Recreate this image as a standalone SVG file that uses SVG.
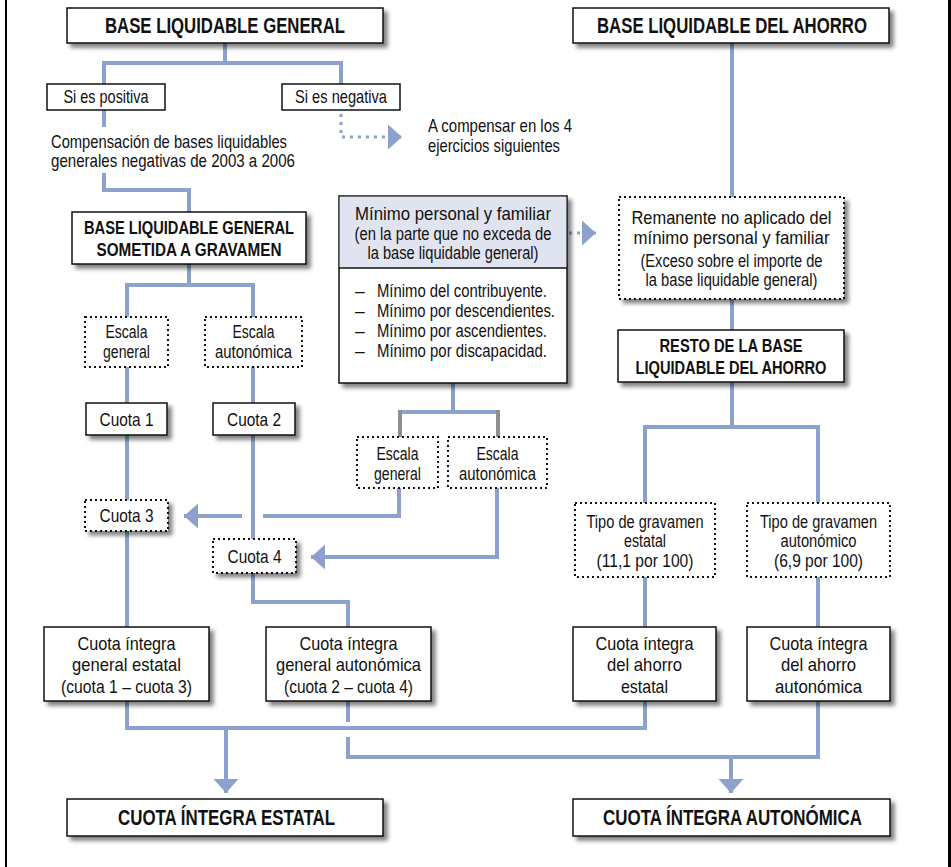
<svg xmlns="http://www.w3.org/2000/svg" width="951" height="867" viewBox="0 0 951 867">
<style>
text{font-family:"Liberation Sans Narrow","Liberation Sans",Arial,sans-serif;fill:#111;}
.t{font-size:17.5px;}
.n{font-size:18.5px;}
.m{font-size:19px;}
.b{font-weight:bold;font-size:18px;}
.B{font-weight:bold;font-size:22px;}
.c{text-anchor:middle;}
.box{fill:#fff;stroke:#111;stroke-width:1.5;}
.dot{fill:#fff;stroke:#111;stroke-width:2;stroke-dasharray:2 3;}
.sh{filter:url(#sh);}
.ln{fill:none;stroke:#8ca1cc;stroke-width:4;}
.gr{fill:none;stroke:#8f8f8f;stroke-width:4;}
.dl{fill:none;stroke:#8ca1cc;stroke-width:3;stroke-dasharray:3 5;}
.ah{fill:#8ca1cc;}
</style>
<defs>
<filter id="sh" x="-10%" y="-10%" width="130%" height="140%">
<feGaussianBlur in="SourceAlpha" stdDeviation="2"/>
<feOffset dx="4" dy="4" result="o"/>
<feComponentTransfer><feFuncA type="linear" slope="0.5"/></feComponentTransfer>
<feMerge><feMergeNode/><feMergeNode in="SourceGraphic"/></feMerge>
</filter>
<marker id="arr" markerUnits="userSpaceOnUse" markerWidth="16" markerHeight="26" refX="14" refY="12.5" orient="auto" viewBox="0 0 16 26">
<path class="ah" d="M0,0 L14,12.5 L0,25 Z"/>
</marker>
</defs>
<rect x="0" y="0" width="951" height="867" fill="#fff"/>
<line x1="6" y1="0" x2="6" y2="867" stroke="#000" stroke-width="2"/>
<line x1="949.5" y1="0" x2="949.5" y2="867" stroke="#000" stroke-width="3"/>

<g id="connectors">
<path class="ln" d="M225,43 V63 M104,63 H341 M104,61 V84 M341,61 V84"/>
<path class="ln" d="M104,110 V127 M104,173 V190 H189 V212"/>
<path class="dl" d="M341,114 V137 H402" marker-end="url(#arr)"/>
<path class="ln" d="M189,264 V285 M127,285 H253 M127,283 V317 M253,283 V317 M127,367 V403 M253,367 V403"/>
<path class="ln" d="M127,435 V500 M127,531 V627 M253,435 V539"/>
<path class="ln" d="M453,383 V412 M400,412 H498"/>
<path class="gr" d="M400,410 V437 M498,410 V437"/>
<path class="ln" d="M399,488 V516 H263"/>
<path class="ln" d="M242,516 H184" marker-end="url(#arr)"/>
<path class="ln" d="M497,488 V557 H311" marker-end="url(#arr)"/>
<path class="ln" d="M253,573 V602 H348 V627"/>
<path class="dl" d="M569,233 H596" marker-end="url(#arr)"/>
<path class="ln" d="M732,43 V197 M732,299 V330 M732,382 V427 M645,427 H818 M645,425 V503 M818,425 V503 M645,577 V627 M818,577 V627"/>
<path class="ln" d="M127,701 V728 H645 V701"/>
<path class="ln" d="M226,728 V793" marker-end="url(#arr)"/>
<path class="ln" d="M348,701 V722 M348,737 V757 H818 V701"/>
<path class="ln" d="M731,757 V793" marker-end="url(#arr)"/>
</g>

<g id="blg">
<rect class="box sh" x="67" y="8" width="316" height="35"/>
<text class="B c" x="225" y="33" textLength="240" lengthAdjust="spacingAndGlyphs">BASE LIQUIDABLE GENERAL</text>
</g>
<g id="blda">
<rect class="box sh" x="573" y="8" width="316" height="35"/>
<text class="B c" x="732" y="33" textLength="270" lengthAdjust="spacingAndGlyphs">BASE LIQUIDABLE DEL AHORRO</text>
</g>
<g id="positiva">
<rect class="box" x="47" y="84" width="118" height="26"/>
<text class="n c" x="106" y="103" textLength="85" lengthAdjust="spacingAndGlyphs">Si es positiva</text>
</g>
<g id="negativa">
<rect class="box" x="282" y="84" width="118" height="26"/>
<text class="n c" x="341" y="103" textLength="92" lengthAdjust="spacingAndGlyphs">Si es negativa</text>
</g>
<g id="compensacion">
<text class="m" x="51" y="148" textLength="236" lengthAdjust="spacingAndGlyphs">Compensación de bases liquidables</text>
<text class="m" x="51" y="167" textLength="244" lengthAdjust="spacingAndGlyphs">generales negativas de 2003 a 2006</text>
</g>
<g id="acompensar">
<text class="n" x="428" y="132" textLength="144" lengthAdjust="spacingAndGlyphs">A compensar en los 4</text>
<text class="n" x="428" y="152" textLength="132" lengthAdjust="spacingAndGlyphs">ejercicios siguientes</text>
</g>
<g id="sometida">
<rect class="box sh" x="72" y="212" width="234" height="52"/>
<text class="b c" x="189" y="234" textLength="210" lengthAdjust="spacingAndGlyphs">BASE LIQUIDABLE GENERAL</text>
<text class="b c" x="189" y="256" textLength="185" lengthAdjust="spacingAndGlyphs">SOMETIDA A GRAVAMEN</text>
</g>
<g id="escala-general-1">
<rect class="dot" x="85" y="317" width="83" height="50"/>
<text class="t c" x="126.5" y="338" textLength="42" lengthAdjust="spacingAndGlyphs">Escala</text>
<text class="t c" x="126.5" y="358" textLength="47" lengthAdjust="spacingAndGlyphs">general</text>
</g>
<g id="escala-auto-1">
<rect class="dot" x="205" y="317" width="97" height="50"/>
<text class="t c" x="253.5" y="338" textLength="42" lengthAdjust="spacingAndGlyphs">Escala</text>
<text class="t c" x="253.5" y="358" textLength="77" lengthAdjust="spacingAndGlyphs">autonómica</text>
</g>
<g id="cuota1">
<rect class="box sh" x="86" y="403" width="81" height="32"/>
<text class="m c" x="126.5" y="426" textLength="54" lengthAdjust="spacingAndGlyphs">Cuota 1</text>
</g>
<g id="cuota2">
<rect class="box sh" x="213" y="403" width="82" height="32"/>
<text class="m c" x="254" y="426" textLength="54" lengthAdjust="spacingAndGlyphs">Cuota 2</text>
</g>
<g id="minimo">
<rect class="box sh" x="339" y="196" width="228" height="187"/>
<rect x="339.75" y="196.75" width="226.5" height="71" fill="#dfe4f0"/>
<line x1="339" y1="268" x2="567" y2="268" stroke="#111" stroke-width="1.5"/>
<text class="m c" x="453" y="220" textLength="196" lengthAdjust="spacingAndGlyphs">Mínimo personal y familiar</text>
<text class="t c" x="453" y="240" textLength="197" lengthAdjust="spacingAndGlyphs">(en la parte que no exceda de</text>
<text class="t c" x="453" y="259" textLength="171" lengthAdjust="spacingAndGlyphs">la base liquidable general)</text>
<text class="t" x="355" y="297">–</text>
<text class="t" x="377" y="297" textLength="170" lengthAdjust="spacingAndGlyphs">Mínimo del contribuyente.</text>
<text class="t" x="355" y="317">–</text>
<text class="t" x="377" y="317" textLength="178" lengthAdjust="spacingAndGlyphs">Mínimo por descendientes.</text>
<text class="t" x="355" y="337">–</text>
<text class="t" x="377" y="337" textLength="170" lengthAdjust="spacingAndGlyphs">Mínimo por ascendientes.</text>
<text class="t" x="355" y="357">–</text>
<text class="t" x="377" y="357" textLength="170" lengthAdjust="spacingAndGlyphs">Mínimo por discapacidad.</text>
</g>
<g id="escala-general-2">
<rect class="dot" x="357" y="437" width="81" height="51"/>
<text class="t c" x="397.5" y="460" textLength="42" lengthAdjust="spacingAndGlyphs">Escala</text>
<text class="t c" x="397.5" y="480" textLength="47" lengthAdjust="spacingAndGlyphs">general</text>
</g>
<g id="escala-auto-2">
<rect class="dot" x="448" y="437" width="99" height="51"/>
<text class="t c" x="497.5" y="460" textLength="42" lengthAdjust="spacingAndGlyphs">Escala</text>
<text class="t c" x="497.5" y="480" textLength="77" lengthAdjust="spacingAndGlyphs">autonómica</text>
</g>
<g id="cuota3">
<rect class="dot sh" x="85" y="500" width="83" height="31"/>
<text class="m c" x="126.5" y="522" textLength="54" lengthAdjust="spacingAndGlyphs">Cuota 3</text>
</g>
<g id="cuota4">
<rect class="dot sh" x="213" y="539" width="83" height="34"/>
<text class="m c" x="254.5" y="563" textLength="54" lengthAdjust="spacingAndGlyphs">Cuota 4</text>
</g>
<g id="remanente">
<rect class="dot sh" x="619" y="197" width="225" height="102"/>
<text class="m c" x="731.5" y="224" textLength="200" lengthAdjust="spacingAndGlyphs">Remanente no aplicado del</text>
<text class="m c" x="731.5" y="244" textLength="196" lengthAdjust="spacingAndGlyphs">mínimo personal y familiar</text>
<text class="t c" x="731.5" y="267" textLength="182" lengthAdjust="spacingAndGlyphs">(Exceso sobre el importe de</text>
<text class="t c" x="731.5" y="286" textLength="172" lengthAdjust="spacingAndGlyphs">la base liquidable general)</text>
</g>
<g id="resto">
<rect class="box sh" x="618" y="330" width="226" height="52"/>
<text class="b c" x="731" y="352" textLength="143" lengthAdjust="spacingAndGlyphs">RESTO DE LA BASE</text>
<text class="b c" x="731" y="374" textLength="191" lengthAdjust="spacingAndGlyphs">LIQUIDABLE DEL AHORRO</text>
</g>
<g id="tipo-estatal">
<rect class="dot" x="575" y="503" width="140" height="74"/>
<text class="t c" x="645" y="528" textLength="117" lengthAdjust="spacingAndGlyphs">Tipo de gravamen</text>
<text class="t c" x="645" y="547" textLength="42" lengthAdjust="spacingAndGlyphs">estatal</text>
<text class="t c" x="645" y="567" textLength="97" lengthAdjust="spacingAndGlyphs">(11,1 por 100)</text>
</g>
<g id="tipo-auto">
<rect class="dot" x="747" y="503" width="143" height="74"/>
<text class="t c" x="818.5" y="528" textLength="117" lengthAdjust="spacingAndGlyphs">Tipo de gravamen</text>
<text class="t c" x="818.5" y="547" textLength="76" lengthAdjust="spacingAndGlyphs">autonómico</text>
<text class="t c" x="818.5" y="567" textLength="89" lengthAdjust="spacingAndGlyphs">(6,9 por 100)</text>
</g>
<g id="ci-general-estatal">
<rect class="box sh" x="44" y="627" width="165" height="74"/>
<text class="m c" x="126.5" y="650" textLength="98" lengthAdjust="spacingAndGlyphs">Cuota íntegra</text>
<text class="m c" x="126.5" y="671" textLength="109" lengthAdjust="spacingAndGlyphs">general estatal</text>
<text class="t c" x="126.5" y="693" textLength="131" lengthAdjust="spacingAndGlyphs">(cuota 1 – cuota 3)</text>
</g>
<g id="ci-general-auto">
<rect class="box sh" x="266" y="627" width="165" height="74"/>
<text class="m c" x="348.5" y="650" textLength="98" lengthAdjust="spacingAndGlyphs">Cuota íntegra</text>
<text class="m c" x="348.5" y="671" textLength="145" lengthAdjust="spacingAndGlyphs">general autonómica</text>
<text class="t c" x="348.5" y="693" textLength="129" lengthAdjust="spacingAndGlyphs">(cuota 2 – cuota 4)</text>
</g>
<g id="ci-ahorro-estatal">
<rect class="box sh" x="573" y="627" width="143" height="74"/>
<text class="m c" x="644.5" y="650" textLength="98" lengthAdjust="spacingAndGlyphs">Cuota íntegra</text>
<text class="m c" x="644.5" y="671" textLength="75" lengthAdjust="spacingAndGlyphs">del ahorro</text>
<text class="m c" x="644.5" y="693" textLength="47" lengthAdjust="spacingAndGlyphs">estatal</text>
</g>
<g id="ci-ahorro-auto">
<rect class="box sh" x="747" y="627" width="143" height="74"/>
<text class="m c" x="818.5" y="650" textLength="98" lengthAdjust="spacingAndGlyphs">Cuota íntegra</text>
<text class="m c" x="818.5" y="671" textLength="75" lengthAdjust="spacingAndGlyphs">del ahorro</text>
<text class="m c" x="818.5" y="693" textLength="87" lengthAdjust="spacingAndGlyphs">autonómica</text>
</g>
<g id="ci-estatal">
<rect class="box sh" x="67" y="799" width="316" height="37"/>
<text class="B c" x="226.5" y="825" textLength="217" lengthAdjust="spacingAndGlyphs">CUOTA ÍNTEGRA ESTATAL</text>
</g>
<g id="ci-autonomica">
<rect class="box sh" x="573" y="799" width="317" height="37"/>
<text class="B c" x="732.5" y="825" textLength="259" lengthAdjust="spacingAndGlyphs">CUOTA ÍNTEGRA AUTONÓMICA</text>
</g>
</svg>
